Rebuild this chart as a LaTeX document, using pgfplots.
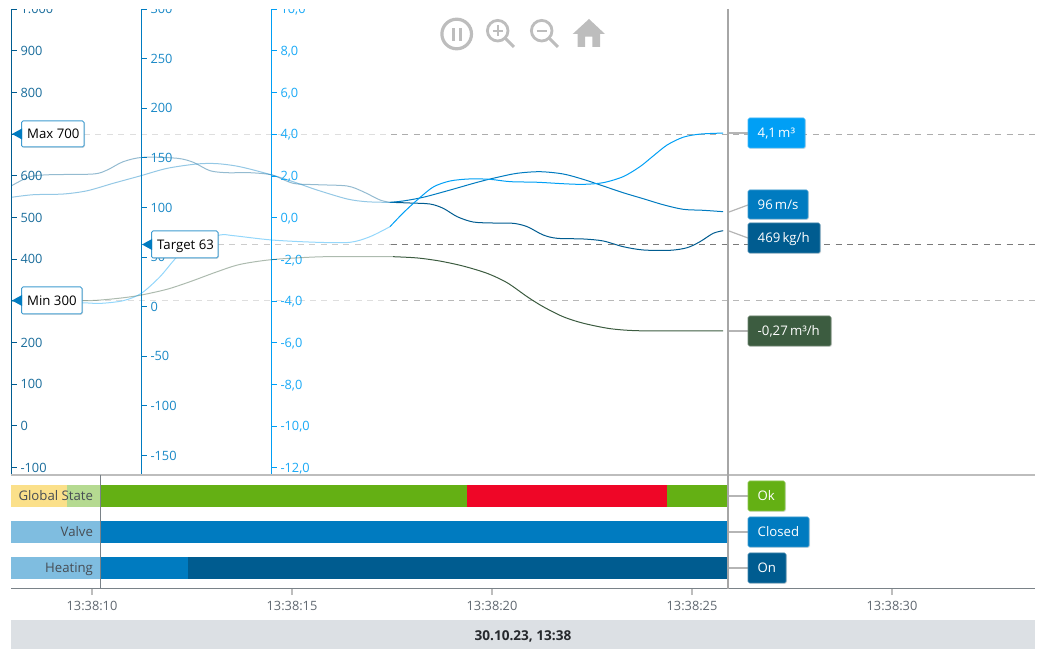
\documentclass[border=0pt]{standalone}
\usepackage{fontspec}
\setmainfont{Open Sans}
\usepackage{pgfplots}
\pgfplotsset{compat=1.18}
\usetikzlibrary{shadows}
\newcommand\fs{\fontsize{13.2}{16}\selectfont}
\newcommand\ft{\fontsize{12.8}{16}\selectfont}
\definecolor{cA}{HTML}{009FF5}
\definecolor{cB}{HTML}{007BC0}
\definecolor{cC}{HTML}{005C90}
\definecolor{cD}{HTML}{3C5C40}
\definecolor{cGreen}{HTML}{64B014}
\definecolor{cRed}{HTML}{EF0627}
\definecolor{cYellow}{HTML}{FBE08A}
\definecolor{cLtGreen}{HTML}{B5DA91}
\definecolor{cLtBlue}{HTML}{7FBDE0}
\definecolor{cIcon}{HTML}{BDBDBD}
\definecolor{cConn}{HTML}{B5B5B5}
\definecolor{cFoot}{HTML}{DCE0E4}
\definecolor{cTxt}{HTML}{5F6770}
\definecolor{cRule}{HTML}{7A8288}
\pgfplotsset{
  yruler/.style={
    scale only axis, clip=false, no markers,
    hide x axis, axis y line=left, y axis line style={-,color=#1,line width=1pt},
    tick align=inside, major tick length=5pt,
    ytick style={color=#1,line width=1pt},
    yticklabel style={anchor=base west,xshift=5.5pt,yshift=-4.6pt,font=\ft,text=#1!90!white},
    xtick=\empty, minor tick num=0,
    xmax=33.575,
  },
  faded/.style={line width=1pt,opacity=0.42,smooth,tension=0.5},
  full/.style={line width=1pt,smooth,tension=0.5},
  dashline/.style={line width=1pt,dash pattern=on 6pt off 5.4pt},
}
\newcommand\chip[6]{%
  \fill[#5,rounded corners=1.5pt,drop shadow={shadow xshift=1pt,shadow yshift=-1pt,opacity=.22}] (#1,#2) rectangle (#3,#4);
  \draw[#5!75!white,line width=0.6pt,rounded corners=1.5pt] (#1,#2) rectangle (#3,#4);
  \node[anchor=base west,inner sep=0pt,text=white,font=\fs] at (#1+9.5,{(#2+#4)/2+4.7}) {#6};}
\newcommand\limitbox[6]{%
  \fill[white,rounded corners=1.5pt,drop shadow={shadow xshift=1pt,shadow yshift=-1pt,opacity=.22}] (#1,#2) rectangle (#3,#4);
  \draw[cB!75!white,line width=1pt,rounded corners=1.5pt] (#1,#2) rectangle (#3,#4);
  \fill[cB] (#1-9.5,{(#2+#4)/2}) -- (#1+0.5,{(#2+#4)/2-5.5}) -- (#1+0.5,{(#2+#4)/2+5.5}) -- cycle;
  \node[anchor=base west,inner sep=0pt,text=black,font=\fs] at (#1+5.5,{(#2+#4)/2+4.7}) {#6};}
\begin{document}
\begin{tikzpicture}
\path[use as bounding box] (0,0) rectangle (1045pt,659pt);

% left axis: kg/h series and its limits
\begin{axis}[yruler=cC, at={(11.5pt,184pt)}, anchor=south west, width=1023.5pt, height=466pt,
  xmin=7.9875, ymin=-117.6, ymax=1000.5,
  ytick={-100,0,100,200,300,400,500,600,700,800,900,1000},
  yticklabels={-100,0,100,200,{},400,500,600,{},800,900,1.000}]
\addplot[dashline,color=black!13] coordinates {(9.8,700) (17.475,700)};
\addplot[dashline,color=black!32] coordinates {(17.475,700) (33.575,700)};
\addplot[dashline,color=black!13] coordinates {(9.75,300) (17.475,300)};
\addplot[dashline,color=black!28] coordinates {(17.475,300) (33.575,300)};
\addplot[faded,color=cC] coordinates {(7.99,576.5) (8.45,598.1) (8.95,602.9) (10.03,604.6) (10.38,614.2) (10.78,634.1) (11.28,644.7) (12.13,642.3) (12.53,632.7) (12.95,612.5) (13.38,607.7) (13.95,607.7) (14.5,602.2) (15.03,582.3) (15.63,578.9) (16.38,575.8) (16.78,562.1) (17.2,542.2) (17.45,536.7)};
\addplot[full,color=cC] coordinates {(17.45,536.7) (17.95,535.0) (18.45,532.6) (18.78,522.3) (19.13,502.2) (19.53,489.4) (20.03,487.0) (20.53,486.3) (20.88,478.2) (21.28,458.3) (21.63,450.3) (22.28,448.7) (22.78,443.9) (23.28,430.2) (23.78,422.3) (24.45,421.5) (24.88,427.8) (25.2,442.2) (25.53,462.3) (25.78,468.6)};
\end{axis}

% middle axis: m/s series and its target
\begin{axis}[yruler=cB, at={(141.5pt,184pt)}, anchor=south west, width=893.5pt, height=466pt,
  xmin=11.2375, ymin=-169.6, ymax=300.1,
  ytick={-150,-100,-50,0,50,100,150,200,250,300},
  yticklabels={-150,-100,-50,0,50,100,150,200,250,300}]
\addplot[dashline,color=black!20] coordinates {(13.15,63) (17.475,63)};
\addplot[dashline,color=black!52] coordinates {(17.475,63) (33.575,63)};
\addplot[faded,color=cB] coordinates {(7.99,110.3) (8.53,112.9) (9.28,113.6) (9.88,116.9) (10.53,124.4) (11.2,131.8) (11.88,139.5) (12.63,143.9) (13.13,144.2) (13.7,141.1) (14.5,132.8) (15.03,126.0) (15.63,117.6) (16.38,108.6) (16.88,105.8) (17.45,105.2)};
\addplot[full,color=cB] coordinates {(17.45,105.2) (17.78,106.6) (18.28,110.3) (18.95,117.6) (19.63,125.4) (20.13,130.4) (20.63,134.5) (21.2,136.1) (21.78,133.8) (22.28,128.4) (22.78,121.7) (23.28,114.9) (23.78,108.9) (24.28,102.8) (24.78,98.2) (25.28,97.2) (25.78,95.8)};
\end{axis}

% right axis: m3 series and the flow series
\begin{axis}[yruler=cA, at={(271.5pt,184pt)}, anchor=south west, width=763.5pt, height=466pt,
  xmin=14.4875, ymin=-12.34, ymax=10.01,
  ytick={-12,-10,-8,-6,-4,-2,0,2,4,6,8,10},
  yticklabels={{-12,0},{-10,0},{-8,0},{-6,0},{-4,0},{-2,0},{0,0},{2,0},{4,0},{6,0},{8,0},{10,0}}]
\addplot[faded,color=cD] coordinates {(7.99,-4.0) (9.75,-3.98) (10.2,-3.95) (10.78,-3.84) (11.23,-3.71) (11.88,-3.43) (12.45,-3.07) (13.13,-2.59) (13.7,-2.24) (14.5,-2.01) (15.63,-1.88) (16.45,-1.87) (17.53,-1.87)};
\addplot[full,color=cD] coordinates {(17.53,-1.87) (18.13,-1.93) (18.7,-2.08) (19.28,-2.32) (19.88,-2.67) (20.38,-3.12) (20.88,-3.79) (21.28,-4.27) (21.78,-4.75) (22.28,-5.06) (22.95,-5.32) (23.63,-5.42) (24.78,-5.43) (25.78,-5.43)};
\addplot[faded,color=cA] coordinates {(7.99,-4.00) (9.75,-4.08) (10.2,-4.11) (10.78,-3.98) (11.23,-3.63) (11.7,-2.83) (12.13,-1.87) (12.58,-1.21) (13.2,-0.83) (13.53,-0.86) (14.5,-1.07) (15.63,-1.18) (16.45,-1.18) (16.95,-0.91) (17.45,-0.43)};
\addplot[full,color=cA] coordinates {(17.45,-0.43) (17.78,0.23) (18.13,0.85) (18.53,1.47) (18.95,1.76) (19.45,1.86) (19.95,1.84) (20.45,1.73) (21.13,1.70) (21.78,1.63) (22.28,1.60) (22.78,1.68) (23.28,1.97) (23.7,2.45) (24.03,2.96) (24.38,3.49) (24.78,3.86) (25.2,4.01) (25.78,4.06)};
\end{axis}

% state panel
\begin{axis}[scale only axis, at={(11.5pt,70pt)}, anchor=south west, width=1023.5pt, height=114pt,
  xmin=7.9875, xmax=33.575, ymin=-0.583, ymax=2.583, no markers, clip=false, axis on top,
  axis x line=bottom, x axis line style={-,color=cRule,line width=1pt},
  axis y line=left, y axis line style={draw=none},
  xtick={10,15,20,25,30}, xticklabels={13:38:10,13:38:15,13:38:20,13:38:25,13:38:30},
  xtick style={color=cIcon,line width=1.5pt}, major tick length=6pt, tick align=outside,
  xticklabel style={font=\ft,text=cTxt,yshift=-3pt},
  ytick={0,1,2}, yticklabels={Heating,Valve,Global State},
  ytick style={draw=none},
  yticklabel style={font=\fs,text=black!25!cTxt,anchor=base east,xshift=91pt,yshift=-4.6pt}]
\addplot[fill=cYellow,draw=none] coordinates {(7.9875,1.694) (9.375,1.694) (9.375,2.306) (7.9875,2.306)} --cycle;
\addplot[fill=cLtGreen,draw=none] coordinates {(9.375,1.694) (10.2,1.694) (10.2,2.306) (9.375,2.306)} --cycle;
\addplot[fill=cGreen,draw=none] coordinates {(10.2,1.694) (19.375,1.694) (19.375,2.306) (10.2,2.306)} --cycle;
\addplot[fill=cRed,draw=none] coordinates {(19.375,1.694) (24.375,1.694) (24.375,2.306) (19.375,2.306)} --cycle;
\addplot[fill=cGreen,draw=none] coordinates {(24.375,1.694) (25.925,1.694) (25.925,2.306) (24.375,2.306)} --cycle;
\addplot[fill=cLtBlue,draw=none] coordinates {(7.9875,0.694) (10.2,0.694) (10.2,1.306) (7.9875,1.306)} --cycle;
\addplot[fill=cB,draw=none] coordinates {(10.2,0.694) (25.9,0.694) (25.9,1.306) (10.2,1.306)} --cycle;
\addplot[fill=cLtBlue,draw=none] coordinates {(7.9875,-0.306) (10.2,-0.306) (10.2,0.306) (7.9875,0.306)} --cycle;
\addplot[fill=cB,draw=none] coordinates {(10.2,-0.306) (12.4,-0.306) (12.4,0.306) (10.2,0.306)} --cycle;
\addplot[fill=cC,draw=none] coordinates {(12.4,-0.306) (25.925,-0.306) (25.925,0.306) (12.4,0.306)} --cycle;
\end{axis}

\begin{scope}[x=1pt,y=-1pt,yshift=659pt]
% clipped top of the axes
\fill[white] (0,0) rectangle (320,9);
% panel rule and cursors
\draw[cIcon,line width=1.5pt] (11,475) -- (1035,475);
\draw[cRule,line width=1pt] (100.5,475) -- (100.5,589);
\draw[black!35,line width=1.2pt] (728,9) -- (728,589);
% connectors
\draw[cConn,line width=1.2pt] (729,133) -- (748,133);
\draw[cConn,line width=1.2pt] (729,212) -- (748,205);
\draw[cConn,line width=1.2pt] (729,231) -- (748,238);
\draw[cConn,line width=1.2pt] (729,331) -- (748,331);
\draw[cConn,line width=1.2pt] (729,496) -- (748,496);
\draw[cConn,line width=1.2pt] (729,532) -- (748,532);
\draw[cConn,line width=1.2pt] (729,568) -- (748,568);
% value chips
\chip{748}{118}{805}{148}{cA}{4,1\,m³}
\chip{748}{190}{808}{219}{cB}{96\,m/s}
\chip{748}{223}{820}{253}{cC}{469\,kg/h}
\chip{748}{316}{831}{346}{cD}{-0,27\,m³/h}
\chip{748}{481}{785}{511}{cGreen}{Ok}
\chip{748}{517}{809}{547}{cB}{Closed}
\chip{748}{553}{786}{583}{cC}{On}
% limit labels
\limitbox{21.5}{121}{84}{147}{}{Max 700}
\limitbox{21.5}{287}{82}{314}{}{Min 300}
\limitbox{151.5}{231}{218}{258}{}{Target 63}
% footer
\fill[cFoot] (11,620) rectangle (1035,649);
\node[font=\fontsize{13.6}{16}\selectfont\bfseries,text=black!60!cTxt] at (523,636) {30.10.23, 13:38};
% tool icons
\draw[cIcon,line width=3.2pt] (456.7,34) circle[radius=14.8];
\fill[cIcon] (452,27.7) rectangle (455.3,41);
\fill[cIcon] (458.7,27.7) rectangle (462,41);
\draw[cIcon,line width=2.8pt] (497.7,30.7) circle[radius=10.3];
\draw[cIcon,line width=3pt] (505.5,38.5) -- (514,47);
\draw[cIcon,line width=1.8pt] (492.5,30.7) -- (502.9,30.7) (497.7,25.5) -- (497.7,35.9);
\draw[cIcon,line width=2.8pt] (541.7,30.7) circle[radius=10.3];
\draw[cIcon,line width=3pt] (549.5,38.5) -- (558,47);
\draw[cIcon,line width=1.8pt] (536.5,30.7) -- (546.9,30.7);
\fill[cIcon] (572.7,34) -- (589,19) -- (605,34) -- (600,34) -- (600,47) -- (592.3,47) -- (592.3,36.7) -- (585,36.7) -- (585,47) -- (577.7,47) -- (577.7,34) -- cycle;
\end{scope}
\end{tikzpicture}
\end{document}
